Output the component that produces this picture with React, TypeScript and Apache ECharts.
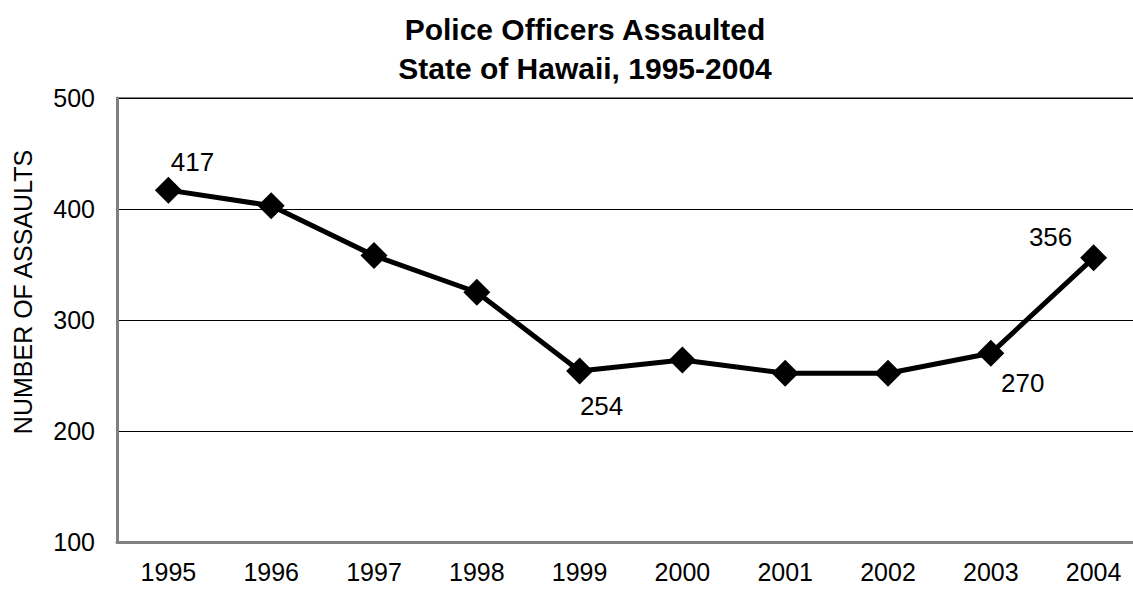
import React, { useEffect, useRef } from "react";
import * as echarts from "echarts";

const years = ["1995", "1996", "1997", "1998", "1999", "2000", "2001", "2002", "2003", "2004"];
const assaults = [417, 403, 358, 325, 254, 264, 252, 252, 270, 356];
const labeledYears = ["1995", "1999", "2003", "2004"];
const labelOffsets: Record<string, [number, number]> = {
  "1995": [24, -28],
  "1999": [22, 35],
  "2003": [32, 30],
  "2004": [-43, -21],
};
const titleText = "Police Officers Assaulted\nState of Hawaii, 1995-2004";
const yAxisTitle = "NUMBER OF ASSAULTS";

const FONT = "'Liberation Sans', Arial, sans-serif";

export default function App() {
  const ref = useRef<HTMLDivElement>(null);
  useEffect(() => {
    document.body.style.margin = "0";
    document.body.style.overflow = "hidden";
    if (!ref.current) return;
    const chart = echarts.init(ref.current, null, { renderer: "svg" });
    const data = assaults.map((v, i) => {
      const y = years[i];
      if (labeledYears.includes(y)) {
        return {
          value: v,
          label: {
            show: true,
            position: "inside",
            offset: labelOffsets[y],
            formatter: String(v),
            color: "#000",
            fontSize: 26,
            fontFamily: FONT,
          },
        };
      }
      return { value: v };
    });
    chart.setOption({
      animation: false,
      backgroundColor: "#fff",
      title: {
        text: titleText,
        left: 580,
        top: 5,
        textAlign: "center",
        textStyle: {
          fontFamily: FONT,
          fontSize: 30,
          fontWeight: "bold",
          color: "#000",
          lineHeight: 39,
        },
      },
      graphic: [
        {
          type: "text",
          x: 23,
          y: 292,
          rotation: Math.PI / 2,
          style: {
            text: yAxisTitle,
            fontFamily: FONT,
            fontSize: 25,
            fill: "#000",
            align: "center",
            verticalAlign: "middle",
          },
        },
      ],
      grid: {
        left: 117,
        top: 98,
        bottom: 50,
        right: 0,
        show: true,
        borderColor: "#808080",
        borderWidth: 2,
      },
      xAxis: {
        type: "category",
        data: years,
        boundaryGap: true,
        axisLine: { lineStyle: { color: "#808080", width: 3 } },
        axisTick: { show: false },
        axisLabel: {
          fontFamily: FONT,
          fontSize: 25,
          color: "#000",
          margin: 17,
        },
      },
      yAxis: {
        type: "value",
        min: 100,
        max: 500,
        interval: 100,
        axisLine: { show: true, lineStyle: { color: "#808080", width: 3 } },
        axisTick: { show: false },
        splitLine: { lineStyle: { color: "#000", width: 1 } },
        axisLabel: {
          fontFamily: FONT,
          fontSize: 25,
          color: "#000",
          margin: 22,
        },
      },
      series: [
        {
          type: "line",
          data,
          symbol: "diamond",
          symbolSize: 27,
          lineStyle: { color: "#000", width: 5 },
          itemStyle: { color: "#000" },
          label: { show: false },
        },
      ],
    });
    return () => chart.dispose();
  }, []);
  return (
    <div style={{ width: 1133, height: 592, overflow: "hidden", position: "relative" }}>
      <div ref={ref} style={{ position: "absolute", left: 0, top: 0, width: 1145, height: 592 }} />
    </div>
  );
}
